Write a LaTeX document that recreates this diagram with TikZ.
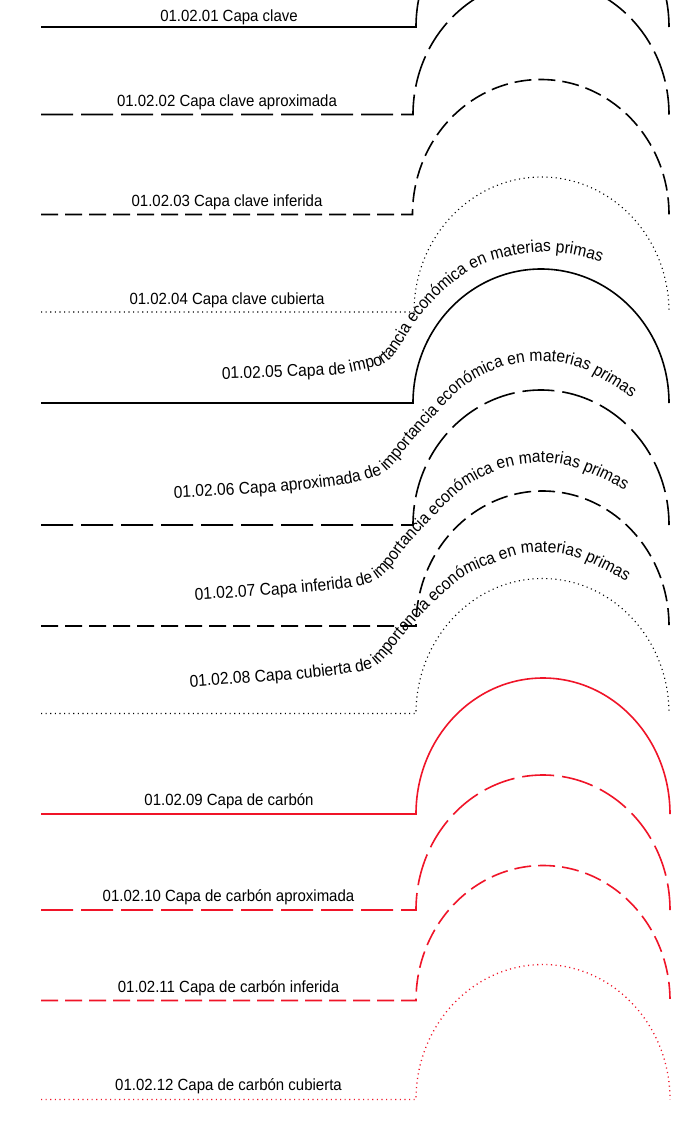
\documentclass[tikz,border=0pt]{standalone}
\usepackage{fontspec}
\setmainfont{Liberation Sans}[FakeStretch=0.925]
\newfontfamily\curvefam{Liberation Sans}[FakeStretch=0.92]
\usetikzlibrary{decorations.text}
\definecolor{symred}{RGB}{240,20,40}
\newcommand\lblfont{\fontsize{16.2pt}{19pt}\selectfont}
\newcommand\crvfont{\curvefam\fontsize{17pt}{20pt}\selectfont}
\tikzset{
  solidln/.style={line width=1.6pt},
  longdash/.style={line width=1.6pt, dash pattern=on 32pt off 8pt},
  shortdash/.style={line width=1.6pt, dash pattern=on 17pt off 7pt},
  dotln/.style={line width=1.1pt, dash pattern=on 1.1pt off 3.5pt},
  redln/.style={draw=symred},
  lbl/.style={font=\lblfont, inner sep=0pt, anchor=base},
  curvetext/.style={decorate,
     decoration={text along path, text align=left, text={|\crvfont|#1}}}
}
\begin{document}
\begin{tikzpicture}[x=1pt,y=-1pt]
\useasboundingbox (0,0) rectangle (673,1128);
\fill[white] (0,0) rectangle (673,1128);
\clip (0,0) rectangle (673,1128);

% ---- symbols ----
\draw[solidln]   (41,27)    -- (416,27)    arc[start angle=180,end angle=0,x radius=126.5pt,y radius=135pt];
\draw[longdash]  (41,114.5) -- (413,114.5) arc[start angle=180,end angle=0,x radius=128pt,y radius=135pt];
\draw[shortdash] (41,214.5) -- (412.5,214.5) arc[start angle=180,end angle=0,x radius=128.25pt,y radius=135pt];
\draw[dotln]     (41,312)   -- (414,312)   arc[start angle=180,end angle=0,x radius=127.5pt,y radius=135pt];
\draw[solidln]   (41,403)   -- (413,403)   arc[start angle=180,end angle=0,x radius=128pt,y radius=134pt];
\draw[longdash]  (41,525)   -- (413,525)   arc[start angle=180,end angle=0,x radius=128pt,y radius=135pt];
\draw[shortdash] (41,626)   -- (416,626)   arc[start angle=180,end angle=0,x radius=126.5pt,y radius=135pt];
\draw[dotln]     (41,713.5) -- (416,713.5) arc[start angle=180,end angle=0,x radius=126.5pt,y radius=135pt];
\draw[solidln,redln]   (41,814)    -- (416,814)    arc[start angle=180,end angle=0,x radius=127pt,y radius=136pt];
\draw[longdash,redln]  (41,910)    -- (416,910)    arc[start angle=180,end angle=0,x radius=127pt,y radius=135pt];
\draw[shortdash,redln] (41,1000.5) -- (416,1000.5) arc[start angle=180,end angle=0,x radius=127pt,y radius=135pt];
\draw[dotln,redln,line width=1.3pt] (41,1099.5) -- (416,1099.5) arc[start angle=180,end angle=0,x radius=127pt,y radius=135pt];

% ---- straight labels ----
\node[lbl] (t1)  at (229,21)    {01.02.01 Capa clave};
\node[lbl] (t2)  at (227,106)   {01.02.02 Capa clave aproximada};
\node[lbl] (t3)  at (227,206)   {01.02.03 Capa clave inferida};
\node[lbl] (t4)  at (227,304)   {01.02.04 Capa clave cubierta};
\node[lbl] (t9)  at (229,805)   {01.02.09 Capa de carbón};
\node[lbl] (t10) at (228.5,901) {01.02.10 Capa de carbón aproximada};
\node[lbl] (t11) at (228.5,992) {01.02.11 Capa de carbón inferida};
\node[lbl] (t12) at (228.5,1090){01.02.12 Capa de carbón cubierta};

% ---- curved labels ----
\begin{scope}[shift={(541,403)}]
\path[curvetext={01.02.05 Capa de importancia económica en materias primas}]
  plot[smooth, tension=0.5] coordinates {(-319,-24) (-211,-28) (-180,-33) (-160,-38) (-149,-46) (-140,-58) (-131,-73) (-120,-88)
   (-100,-110) (-74,-131) (-50,-142) (-20,-149) (10,-151) (40,-147) (70,-136) (105,-110) (135,-65) (150,0)};
\end{scope}
\begin{scope}[shift={(541,525)}]
\path[curvetext={01.02.06 Capa aproximada de importancia económica en materias primas}]
  plot[smooth, tension=0.5] coordinates {(-367,-27) (-263,-33) (-190,-42) (-161,-50) (-150,-58) (-140,-70) (-128,-85) (-106,-110)
   (-78,-138) (-45,-156) (-15,-163) (15,-163) (45,-155) (95,-124) (128,-90) (150,-45) (158,0)};
\end{scope}
\begin{scope}[shift={(542.5,626)}]
\path[curvetext={01.02.07 Capa inferida de importancia económica en materias primas}]
  plot[smooth, tension=0.5] coordinates {(-347.5,-26) (-242.5,-33) (-189.5,-39) (-170,-44) (-158,-52) (-148,-64) (-136,-80) (-112,-106)
   (-80,-137) (-47,-155) (-20,-162) (10,-163) (40,-156) (88,-132) (125,-95) (150,-45) (158,0)};
\end{scope}
\begin{scope}[shift={(542.5,713.5)}]
\path[curvetext={01.02.08 Capa cubierta de importancia económica en materias primas}]
  plot[smooth, tension=0.5] coordinates {(-352.5,-26.5) (-250,-34) (-192.5,-40.5) (-171,-45) (-160,-53) (-150,-65) (-138,-80) (-114,-106)
   (-80,-136) (-45,-152) (-19,-160) (10,-161) (40,-154) (90,-128) (125,-93) (150,-45) (158,0)};
\end{scope}
\end{tikzpicture}
\end{document}
